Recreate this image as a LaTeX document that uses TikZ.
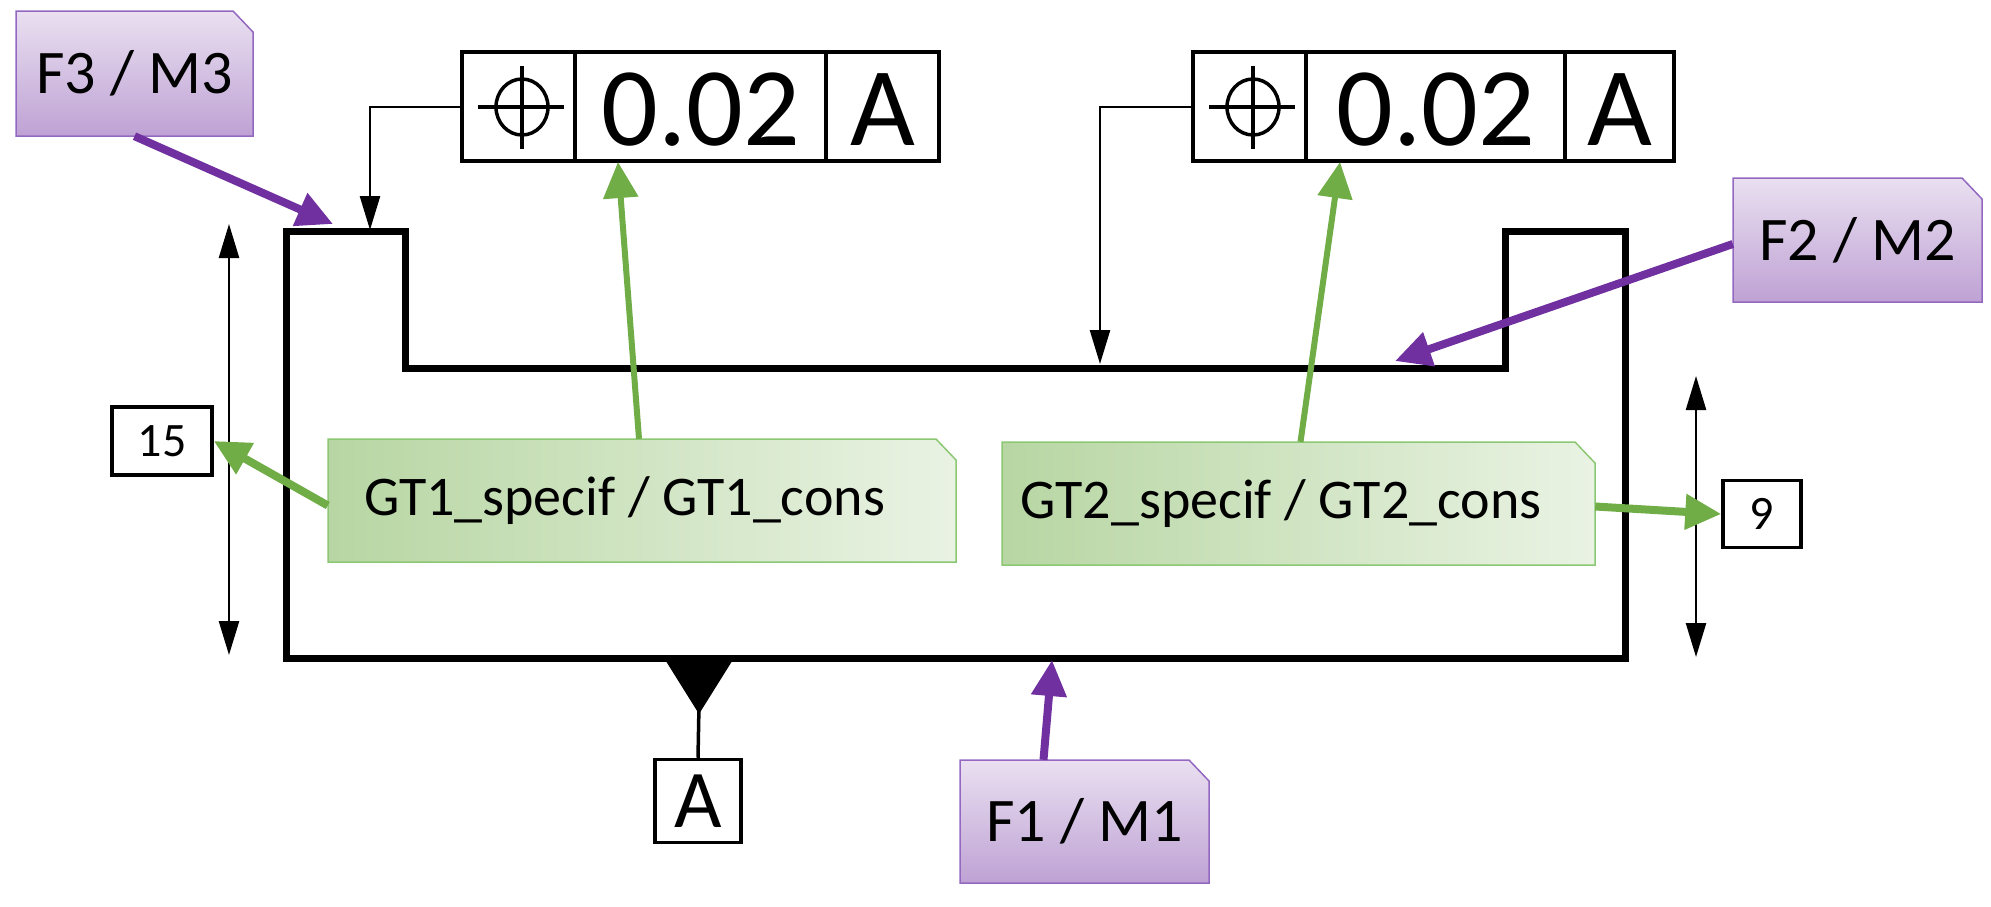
\documentclass[tikz,border=0pt]{standalone}
\usepackage{fontspec}
\setmainfont{Carlito}
\usetikzlibrary{arrows.meta,calc}
\definecolor{purp}{HTML}{7030A0}
\definecolor{grn}{HTML}{70AD47}
\definecolor{purpedge}{HTML}{9468C0}
\definecolor{grnedge}{HTML}{8CC873}
\tikzset{
  part/.style={line width=7pt, line join=miter},
  frame/.style={draw, line width=3.5pt, inner sep=0pt},
  dim/.style={line width=2.5pt, {Triangle[length=34pt,width=20pt]}-{Triangle[length=34pt,width=20pt]}},
  lead/.style={line width=2.5pt, -{Triangle[length=34pt,width=20pt]}},
  parrow/.style={purp, line width=8pt, -{Triangle[length=36pt,width=34pt]}},
  garrow/.style={grn, line width=8pt, -{Triangle[length=36pt,width=34pt]}},
  pnote/.style={draw=purpedge, line width=1.5pt, top color=purp!15, bottom color=purp!45},
  gnote/.style={draw=grnedge, line width=1.5pt, shading=axis, shading angle=20,
    left color=grn!50!white, right color=grn!15!white},
  txt/.style={inner sep=0pt, font=\fontsize{#1}{#1}\selectfont}
}
% cut-corner note: name, x1, y1, x2, y2, style, text, font size
\newcommand\mynote[8]{
  \path[#6] (#2,#3) -- (#4-20,#3) -- (#4,#3+21) -- (#4,#5) -- (#2,#5) -- cycle;
  \node[txt=#8, minimum width=#4-#2, minimum height=#5-#3] (#1) at ({(#2+#4)/2},{(#3+#5)/2}) {#7};
}
% feature control frame: name, x left, second divider, x right
\newcommand\myfcf[4]{
  \draw[line width=3.5pt] (#2,52) rectangle (#4,161) (#3,52) -- (#3,161);
  \draw[line width=3.5pt] (#2+113,52) -- (#2+113,161);
  \node[txt=112pt] (#1val) at ({(#2+113+#3)/2},110) {0.02};
  \node[txt=112pt] (#1dat) at ({(#3+#4)/2},110) {A};
  \coordinate (#1in) at (#2,107);
  \draw[line width=3.5pt] (#2+60,107) ellipse (26 and 28);
  \draw[line width=3.5pt] (#2+16,107) -- (#2+102,107) (#2+60,66) -- (#2+60,149);
}
\begin{document}
\begin{tikzpicture}[x=1pt,y=-1pt]
\useasboundingbox (0,0) rectangle (1991,906);

% part
\draw[part] (286,231) -- (405,231) -- (405,368) -- (1505,368) -- (1505,231)
  -- (1625,231) -- (1625,658) -- (286,658) -- cycle;

% feature control frames
\myfcf{fa}{462}{826}{939}
\myfcf{fb}{1193}{1565}{1674}
\coordinate (ta) at (370,230);
\coordinate (tb) at (1100,364);
\draw[lead] (fain) -| (ta);
\draw[lead] (fbin) -| (tb);
\coordinate (fabot) at (618,162);
\coordinate (fbbot) at (1340,162);

% datum
\node[frame, minimum width=86pt, minimum height=83pt, txt=82pt] (datum) at (698,801) {A};
\fill (664,658) -- (734,658) -- (699,714) -- cycle;
\draw[line width=3.5pt] (699,705) -- (datum.north);

% dimensions
\coordinate (d1t) at (229,224);
\coordinate (d1b) at (229,655);
\draw[dim] (d1t) -- (d1b);
\coordinate (d2t) at (1696,376);
\coordinate (d2b) at (1696,657);
\draw[dim] (d2t) -- (d2b);
\node[frame, minimum width=100pt, minimum height=68pt, txt=48pt] (v15) at (162,441) {15};
\node[frame, minimum width=78pt, minimum height=67pt, txt=48pt] (v9) at (1762,514) {9};

% notes
\mynote{f3}{16}{11}{253}{136}{pnote}{F3 / M3}{62pt}
\mynote{f2}{1733}{178}{1982}{302}{pnote}{F2 / M2}{62pt}
\mynote{f1}{960}{760}{1209}{883}{pnote}{F1 / M1}{62pt}
\mynote{g1}{328}{439}{956}{562}{gnote}{\makebox[600pt][l]{\hspace{22pt}GT1\_specif / GT1\_cons}}{56pt}
\mynote{g2}{1002}{442}{1595}{565}{gnote}{\makebox[580pt][l]{\hspace{12pt}GT2\_specif / GT2\_cons}}{56pt}

% purple arrows
\coordinate (p3) at (333,224);
\coordinate (p2) at (1395,361);
\coordinate (p1) at (1052,660);
\draw[parrow] (f3.south) -- (p3);
\draw[parrow] ([yshift=-4pt]f2.west) -- (p2);
\draw[parrow] ([xshift=-41pt]f1.north) -- (p1);

% green arrows
\draw[garrow, line width=6pt] ([xshift=-3pt]g1.north) -- (fabot);
\draw[garrow, line width=6pt] ([xshift=2pt]g2.north) -- (fbbot);
\draw[garrow] ([yshift=-5pt]g1.west) -- (v15.east);
\draw[garrow] ([yshift=-3pt]g2.east) -- (v9.west);
\end{tikzpicture}
\end{document}
